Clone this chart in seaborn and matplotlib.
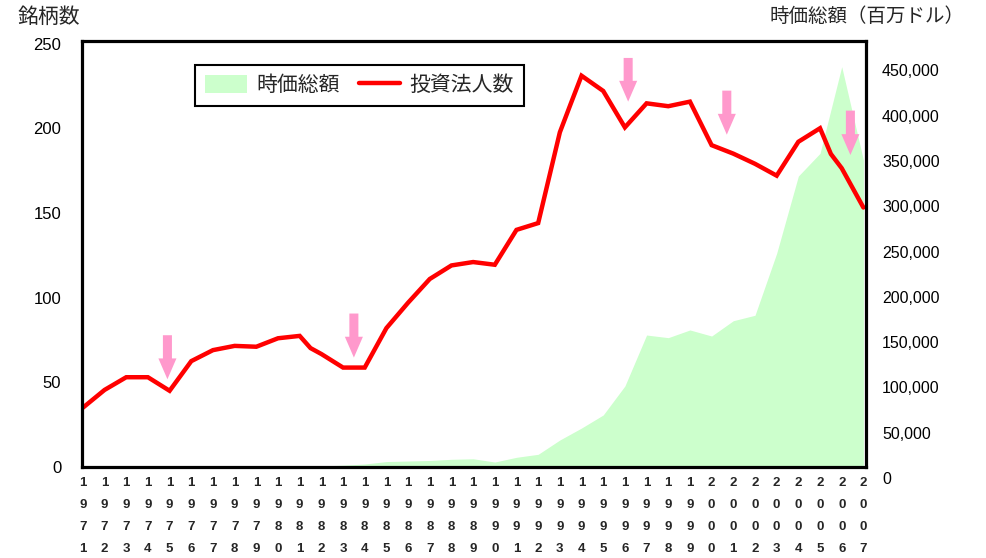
import pandas as pd
import seaborn as sns
import matplotlib.pyplot as plt
from matplotlib.patches import Patch
from matplotlib.lines import Line2D
from matplotlib.ticker import FuncFormatter
from matplotlib.transforms import ScaledTranslation

# Calendar years on the category axis
years = list(range(1971, 2008))

# Market capitalisation (million USD), right axis
market_cap = [
    0, 0, 0, 0, 0, 0, 0, 0, 0, 500,
    800, 1200, 2000, 3300, 6000, 6600, 7200, 8500, 9100, 5500,
    10700, 14000, 29800, 43000, 57400, 89400, 145600, 142700, 151200, 144500,
    161400, 167400, 235800, 321000, 346100, 441700, 338700,
]

# Number of investment corporations, left axis
count_years = [
    1971, 1972, 1973, 1974, 1975, 1976, 1977, 1978, 1979, 1980,
    1981, 1981.5, 1982, 1983, 1984, 1985, 1986, 1987, 1988, 1989,
    1990, 1991, 1992, 1993, 1993.5, 1994, 1995, 1996, 1997, 1998,
    1999, 2000, 2001, 2002, 2003, 2004, 2005, 2005.5, 2006, 2007,
]
reit_count = [
    35, 45.5, 53, 53, 45, 62.5, 69, 71.5, 71, 76,
    77.4, 70.2, 66.7, 58.7, 58.7, 82, 97, 111, 119, 121,
    119.4, 140, 144, 197.6, 214.4, 231, 222, 200.5, 214.7, 213,
    215.7, 190, 185, 179, 172, 192, 200, 184.8, 176.4, 153.2,
]

# Downturn markers: x position, arrow tail and tip (left-axis units)
arrow_x = [1974.9, 1983.5, 1996.15, 2000.7, 2006.4]
arrow_tail = [77.8, 90.6, 241.5, 222.2, 210.4]
arrow_tip = [51.8, 64.6, 215.7, 196.2, 184.2]

left_ticks = [0, 50, 100, 150, 200, 250]
right_ticks = [0, 50000, 100000, 150000, 200000, 250000, 300000, 350000, 400000, 450000]

GREEN = "#CCFFCC"
RED = "#FF0000"
PINK = "#FF99CC"

sns.set_theme(style="white")
plt.rcParams["font.family"] = ["Liberation Sans", "Noto Sans CJK JP"]

fig = plt.figure(figsize=(9.87, 5.58), dpi=100)
ax = fig.add_axes([82 / 987, 91 / 558, 784 / 987, 426 / 558])
ax2 = ax.twinx()

# Market cap as a filled area on the secondary axis
ax2.fill_between(years, market_cap, 0, color=GREEN, linewidth=0)
ax2.set_ylim(0, 470000)
ax2.set_yticks(right_ticks)
ax2.yaxis.set_major_formatter(FuncFormatter(lambda v, p: f"{v:,.0f}"))
ax2.tick_params(axis="y", length=0, pad=11.5, labelsize=11.5, colors="black")
for s in ax2.spines.values():
    s.set_visible(False)
shift = ScaledTranslation(0, -8 / 72, fig.dpi_scale_trans)
for lbl in ax2.get_yticklabels():
    lbl.set_transform(lbl.get_transform() + shift)

# Primary axis on top so the line and markers sit above the area
ax.set_zorder(ax2.get_zorder() + 1)
ax.patch.set_visible(False)

df = pd.DataFrame({"year": count_years, "count": reit_count})
sns.lineplot(data=df, x="year", y="count", ax=ax, color=RED, linewidth=3.2,
             sort=False, legend=False)
ax.lines[-1].set_solid_joinstyle("miter")

for x, tail, tip in zip(arrow_x, arrow_tail, arrow_tip):
    ax.annotate("", xy=(x, tip), xytext=(x, tail),
                arrowprops=dict(arrowstyle="simple,head_length=1.5,head_width=1.3,tail_width=0.65",
                                color=PINK, lw=0, shrinkA=0, shrinkB=0, mutation_scale=10))

ax.set_xlim(1970.96, 2007.12)
ax.set_ylim(0, 251.5)
ax.set_yticks(left_ticks)
ax.set_xticks(years)
ax.set_xticklabels(["\n".join(str(y)) for y in years], fontsize=9.5,
                   fontweight="bold", linespacing=2.12)
ax.tick_params(axis="x", length=0, pad=7)
ax.tick_params(axis="y", length=0, pad=15, labelsize=12, colors="black")
ax.set_xlabel("")
ax.set_ylabel("")
for s in ax.spines.values():
    s.set_visible(True)
    s.set_color("black")
    s.set_linewidth(2.3)

handles = [
    Patch(facecolor=GREEN, edgecolor="none", label="時価総額"),
    Line2D([0], [0], color=RED, lw=3.2, label="投資法人数"),
]
leg = ax.legend(handles=handles, loc="upper left", bbox_to_anchor=(0.144, 0.944),
                ncol=2, frameon=True, fancybox=False, edgecolor="black", framealpha=1,
                fontsize=15, handlelength=2.0, handleheight=0.9, handletextpad=0.45,
                columnspacing=0.9, borderpad=0.5, borderaxespad=0)
leg.get_frame().set_linewidth(1.5)

fig.text(18 / 987, 1 - 17 / 558, "銘柄数", fontsize=15, ha="left", va="center")
fig.text(965 / 987, 1 - 17 / 558, "時価総額（百万ドル）", fontsize=14, ha="right", va="center")

fig.savefig("out.png", dpi=100)
